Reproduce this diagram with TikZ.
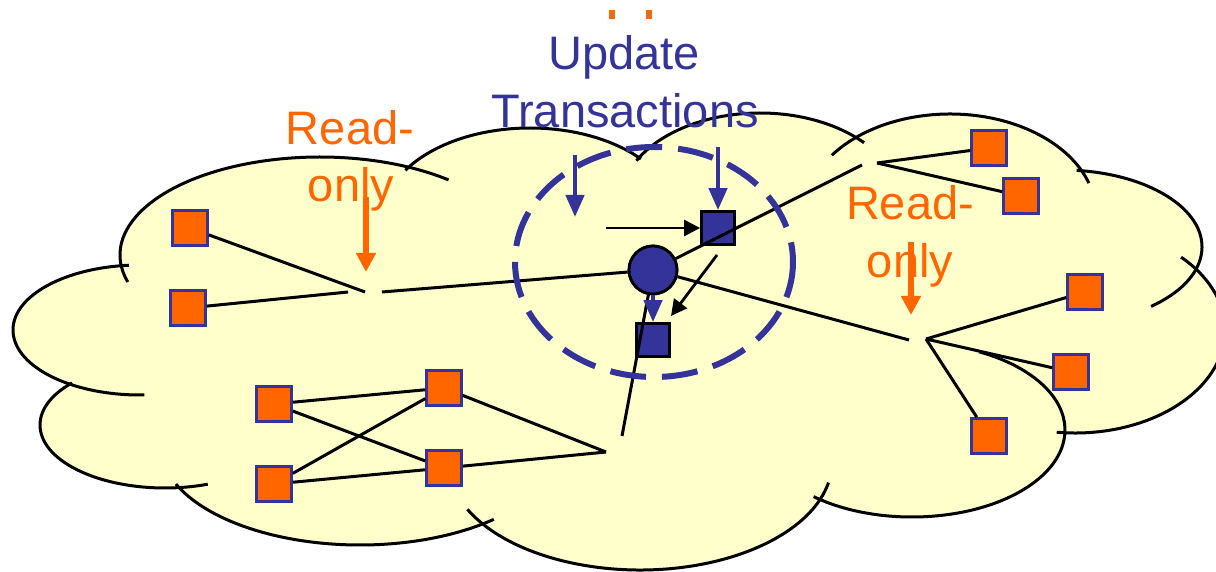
\documentclass[tikz,border=0pt]{standalone}
\usepackage{fontspec}
\setmainfont{Liberation Sans}
\usetikzlibrary{arrows.meta}
\definecolor{cloudyellow}{HTML}{FFFFCC}
\definecolor{navy}{HTML}{333399}
\definecolor{tangerine}{HTML}{FF6600}
\tikzset{
  cloudfill/.style={fill=cloudyellow},
  cloudline/.style={draw=black,line width=1.5pt},
  link/.style={draw=black,line width=1.5pt},
  replica/.style={rectangle,draw=navy,fill=tangerine,line width=1.3pt,minimum size=17.5pt,inner sep=0pt},
  primary/.style={rectangle,draw=black,fill=navy,line width=1.4pt,minimum size=16.5pt,inner sep=0pt},
  master/.style={circle,draw=black,fill=navy,line width=1.4pt,minimum size=24pt,inner sep=0pt},
  zone/.style={draw=navy,line width=3pt,dash pattern=on 18pt off 8pt},
  readarrow/.style={draw=tangerine,line width=2.75pt,-{Triangle[width=9.5pt,length=9.5pt]}},
  updarrow/.style={draw=navy,line width=2.2pt,-{Triangle[width=9pt,length=11pt]}},
  msgarrow/.style={draw=black,line width=1.4pt,-{Triangle[width=8pt,length=8pt]}},
  txt/.style={font=\fontsize{23.5}{28.5}\selectfont,inner sep=0pt,anchor=base},
}
\begin{document}
\begin{tikzpicture}[x=0.5pt,y=-0.5pt]
% page
\fill[white] (0,0) rectangle (1216,572);
\useasboundingbox (0,0) rectangle (1216,572);

% cloud: lobes cx/cy/rx/ry/start/end (parametric angles)
\def\lobes{320/255/200/98/164/310, 140/330/127/65/265/88, 165/425/125/63/222/70,
  360/445/200/100/157/48, 640/462/192/108/154/11, 912/430/153/87/130/-64,
  1075/330/150/103/97/-45, 1062/247/140/77/-84/50.5, 950/214/146/100/216/342,
  760/203/140/90/208/318, 530/218/147/90/212/319}
\fill[cloudfill] (121,266) -- (72,385) -- (177,487) -- (470,515) -- (818,500)
  -- (1065,428) -- (1196,268) -- (1083,170) -- (850,148) -- (640,157) -- (408,168) -- cycle;
\foreach \cx/\cy/\rx/\ry/\ta/\tb in \lobes {
  \fill[cloudfill] (\cx,\cy) ellipse [x radius=\rx, y radius=\ry];
}
\foreach \cx/\cy/\rx/\ry/\ta/\tb in \lobes {
  \draw[cloudline] ({\cx+\rx*cos(\ta)},{\cy+\ry*sin(\ta)})
    arc [start angle=\ta, end angle=\tb, x radius=\rx, y radius=\ry];
}

% primary copies
\node[primary] (bsq1) at (718,228) {};
\node[primary] (bsq2) at (653,340) {};

% network hubs
\coordinate (hl1) at (365,292);
\coordinate (hl2) at (348,292);
\coordinate (hl3) at (382,292);
\coordinate (hb) at (606,452);
\coordinate (hd) at (622,436);
\coordinate (ht1) at (862,165);
\coordinate (ht) at (877,163);
\coordinate (hr1) at (909,340);
\coordinate (hr) at (926,339);

% replicas
\node[replica] (sq1) at (190,228) {};
\node[replica] (sq2) at (188,308) {};
\node[replica] (sq3) at (274,404) {};
\node[replica] (sq4) at (274,484) {};
\node[replica] (sq5) at (444,388) {};
\node[replica] (sq6) at (444,468) {};
\node[replica] (sq7) at (989,148) {};
\node[replica] (sq8) at (1021,196) {};
\node[replica] (sq9) at (1085,292) {};
\node[replica] (sq10) at (1071,372) {};
\node[replica] (sq11) at (989,436) {};

% master site
\node[master] (hub) at (653,270) {};

% links
\draw[link] (sq1) -- (hl1);
\draw[link] (sq2) -- (hl2);
\draw[link] (hl3) -- (hub);
\draw[link] (sq3) -- (sq5);
\draw[link] (sq3) -- (sq6);
\draw[link] (sq4) -- (sq5);
\draw[link] (sq4) -- (sq6);
\draw[link] (sq5) -- (hb);
\draw[link] (sq6) -- (hb);
\draw[link] (hub) -- (hd);
\draw[link] (hub) -- (ht1);
\draw[link] (ht) -- (sq7);
\draw[link] (ht) -- (sq8);
\draw[link] (hub) -- (hr1);
\draw[link] (hr) -- (sq9);
\draw[link] (hr) -- (sq10);
\draw[link] (hr) -- (sq11);
\node[master] at (hub) {};

% update zone
\draw[zone] (654,262) ellipse [x radius=139, y radius=115];

% arrows
\coordinate (u1s) at (575,155);
\coordinate (u1e) at (575,217);
\coordinate (u2s) at (718,147);
\coordinate (m1s) at (606,228);
\coordinate (m2s) at (717,255);
\coordinate (m2e) at (671,316);
\coordinate (rl1) at (366,197);
\coordinate (rl2) at (366,272);
\coordinate (rr1) at (911,242);
\coordinate (rr2) at (911,315);
\draw[updarrow] (u1s) -- (u1e);
\draw[updarrow] (u2s) -- (bsq1);
\draw[updarrow] (hub.south) -- (bsq2);
\draw[msgarrow] (m1s) -- (bsq1);
\draw[msgarrow] (m2s) -- (m2e);
\draw[readarrow] (rl1) -- (rl2);
\draw[readarrow] (rr1) -- (rr2);

% marks at the top edge
\fill[tangerine] (609,10) rectangle (615,19);
\fill[tangerine] (646,10) rectangle (652,19);

% texts
\node[txt,text=navy] (upd1) at (624,70) {Update};
\node[txt,text=navy] (upd2) at (625,128) {Transactions};
\node[txt,text=tangerine] (rol1) at (350,145) {Read-};
\node[txt,text=tangerine] (rol2) at (351,202) {only};
\node[txt,text=tangerine] (ror1) at (910,220) {Read-};
\node[txt,text=tangerine] (ror2) at (910,278) {only};
\end{tikzpicture}
\end{document}
